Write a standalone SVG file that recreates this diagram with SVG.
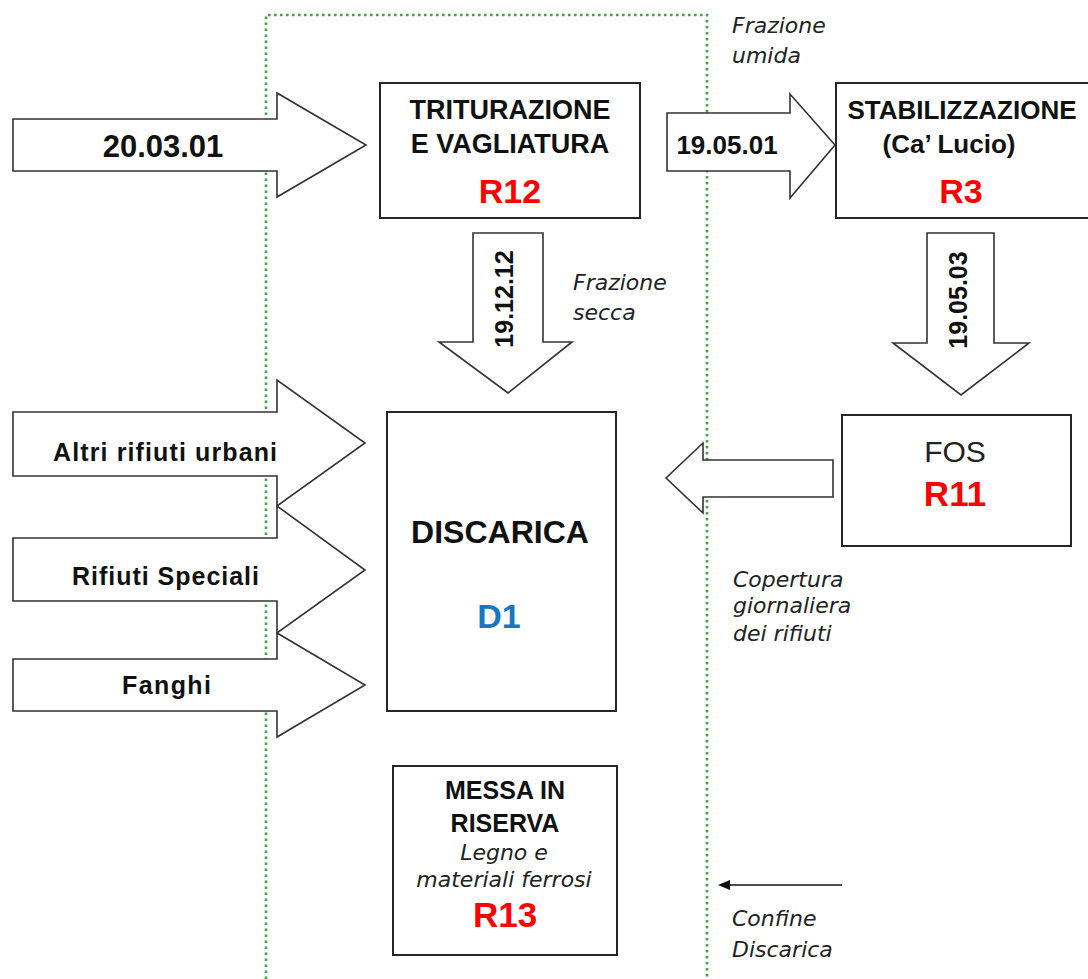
<svg xmlns="http://www.w3.org/2000/svg" width="1088" height="979" viewBox="0 0 1088 979">
<defs>
<style>
.bg{fill:#ffffff}
.bound{fill:none;stroke:#3fa63f;stroke-width:2.6;stroke-dasharray:2.6 3.4}
.box{fill:#ffffff;stroke:#262626;stroke-width:2}
.arr{fill:#ffffff;stroke:#333333;stroke-width:1.6;stroke-linejoin:miter}
.b{font-family:"Liberation Sans",Arial,sans-serif;font-weight:bold;fill:#111111}
.n{font-family:"Liberation Sans",Arial,sans-serif;fill:#222222}
.it{font-family:"DejaVu Sans",Verdana,sans-serif;font-style:italic;fill:#222222;font-size:22px}
.red{fill:#ff0000}
.blue{fill:#1a75c2}
.c{text-anchor:middle}
</style>
<marker id="ah" viewBox="0 0 12 10" refX="0" refY="5" markerWidth="12" markerHeight="10" markerUnits="userSpaceOnUse" orient="auto-start-reverse">
<path d="M0,0 L12,5 L0,10 z" fill="#111111"/>
</marker>
</defs>
<rect class="bg" x="0" y="0" width="1088" height="979"/>

<g id="boundary">
<path class="bound" d="M266,979 V15 H707 V979"/>
</g>

<g id="connectors">
<g id="arrow-200301">
<polygon class="arr" points="13,119 277,119 277,93 366,145 277,197 277,171 13,171"/>
<text class="b c" x="163" y="157" font-size="31">20.03.01</text>
</g>
<g id="arrow-190501">
<polygon class="arr" points="667,113 790,113 790,94 835,145 790,198 790,171 667,171"/>
<text class="b c" x="727" y="154" font-size="26">19.05.01</text>
</g>
<g id="arrow-191212">
<polygon class="arr" points="473,233 543,233 543,342 572,342 508,393 439,342 473,342"/>
<text class="b c" transform="translate(513,299) rotate(-90)" x="0" y="0" font-size="25">19.12.12</text>
</g>
<g id="arrow-190503">
<polygon class="arr" points="927,233 994,233 994,343 1029,343 961,395 893,343 927,343"/>
<text class="b c" transform="translate(967,300) rotate(-90)" x="0" y="0" font-size="25">19.05.03</text>
</g>
<g id="arrow-altri">
<polygon class="arr" points="13,412 277,412 277,380 365,443 277,506 277,476 13,476"/>
<text class="b" x="53" y="461" font-size="25" textLength="224" lengthAdjust="spacing">Altri rifiuti urbani</text>
</g>
<g id="arrow-speciali">
<polygon class="arr" points="13,538 277,538 277,506 365,570 277,633 277,601 13,601"/>
<text class="b" x="72" y="585" font-size="25" textLength="187" lengthAdjust="spacing">Rifiuti Speciali</text>
</g>
<g id="arrow-fanghi">
<polygon class="arr" points="13,659 277,659 277,633 365,685 277,737 277,711 13,711"/>
<text class="b" x="122" y="694" font-size="25" textLength="89" lengthAdjust="spacing">Fanghi</text>
</g>
<g id="arrow-fos">
<polygon class="arr" points="833,460 833,497 703,497 703,513 666,478 703,443 703,460"/>
</g>
<g id="arrow-confine">
<line x1="842" y1="885" x2="730" y2="885" stroke="#111111" stroke-width="1.6" marker-end="url(#ah)"/>
</g>
</g>

<g id="node-triturazione">
<rect class="box" x="380" y="83" width="260" height="135"/>
<text class="b c" x="510" y="119" font-size="27">TRITURAZIONE</text>
<text class="b c" x="510" y="153" font-size="27">E VAGLIATURA</text>
<text class="b c red" x="510" y="203" font-size="34">R12</text>
</g>

<g id="node-stabilizzazione">
<rect class="box" x="836" y="83" width="254" height="135"/>
<text class="b c" x="962" y="119" font-size="26">STABILIZZAZIONE</text>
<text class="b c" x="949" y="153" font-size="26">(Ca’ Lucio)</text>
<text class="b c red" x="961" y="203" font-size="34">R3</text>
</g>

<g id="node-discarica">
<rect class="box" x="387" y="412" width="229" height="299"/>
<text class="b c" x="500" y="543" font-size="32">DISCARICA</text>
<text class="b c blue" x="499" y="628" font-size="34">D1</text>
</g>

<g id="node-fos">
<rect class="box" x="842" y="415" width="229" height="131"/>
<text class="n c" x="955" y="462" font-size="30">FOS</text>
<text class="b c red" x="955" y="506" font-size="35">R11</text>
</g>

<g id="node-messa">
<rect class="box" x="393" y="766" width="224" height="189"/>
<text class="b c" x="505" y="799" font-size="25">MESSA IN</text>
<text class="b c" x="505" y="832" font-size="25">RISERVA</text>
<text class="it c" x="504" y="860">Legno e</text>
<text class="it c" x="504" y="887">materiali ferrosi</text>
<text class="b c red" x="505" y="927" font-size="35">R13</text>
</g>

<g id="labels">
<text class="it" x="732" y="33">Frazione</text>
<text class="it" x="732" y="63">umida</text>
<text class="it" x="573" y="290">Frazione</text>
<text class="it" x="573" y="320">secca</text>
<text class="it" x="733" y="587">Copertura</text>
<text class="it" x="733" y="613">giornaliera</text>
<text class="it" x="733" y="641">dei rifiuti</text>
<text class="it" x="732" y="926">Confine</text>
<text class="it" x="732" y="957">Discarica</text>
</g>
</svg>
